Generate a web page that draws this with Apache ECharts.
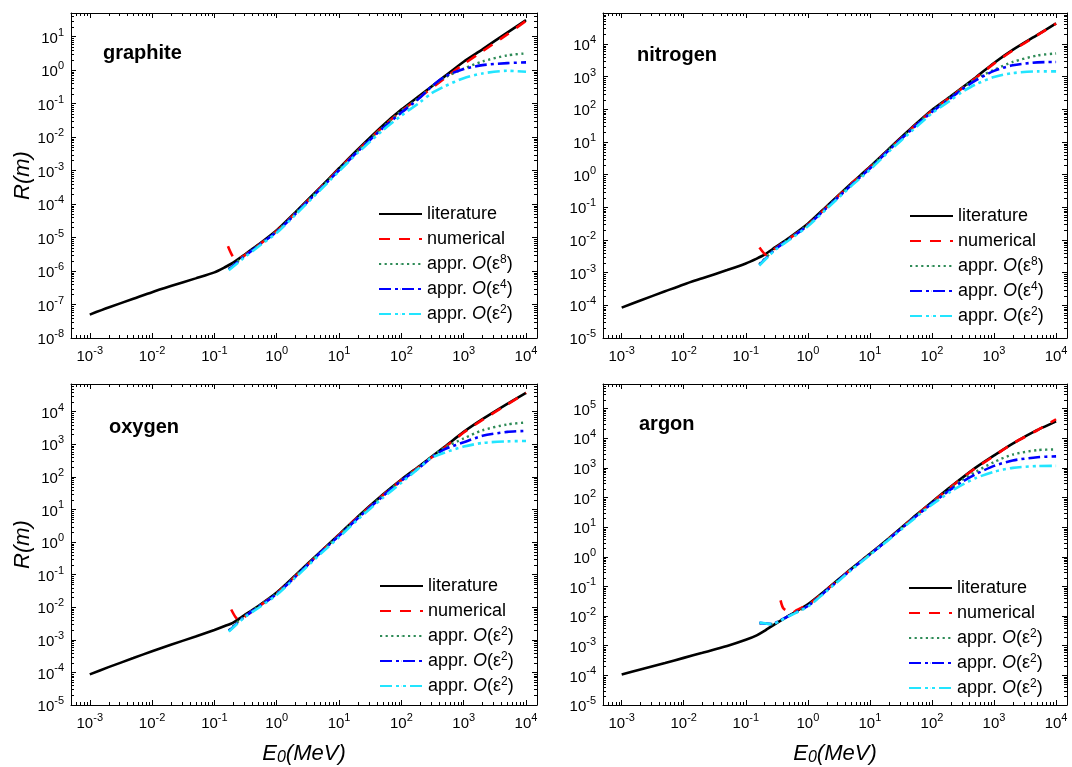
<!DOCTYPE html>
<html><head><meta charset="utf-8">
<script src="https://cdn.jsdelivr.net/npm/echarts@6/dist/echarts.min.js"></script>
<style>html,body{margin:0;padding:0;background:#fff}#c{width:1072px;height:767px}</style>
</head><body><div id="c"></div>
<script>
// ---------------- DATA ----------------
// graphite
const graphiteLitE = [0.001,0.002,0.005,0.01,0.02,0.05,0.1,0.15,0.2,0.3,0.5,1,2,5,10,20,50,100,200,500,1000,2000,5000,10000];
const graphiteLitR = [5.0e-8,8.13e-8,1.48e-7,2.34e-7,3.55e-7,6.03e-7,9.12e-7,1.32e-6,1.78e-6,3.02e-6,6.03e-6,1.66e-5,5.75e-5,3.16e-4,1.17e-3,4.27e-3,0.0219,0.066,0.178,0.66,1.78,4.17,13.2,30.9];
const graphiteNumE = [0.165,0.197,0.229,0.302,1,2,5,10,20,50,100,200,500,1000,2000,5000,10000];
const graphiteNumR = [5.5e-6,2.75e-6,2.29e-6,2.88e-6,1.58e-5,5.37e-5,3.02e-4,1.12e-3,3.98e-3,0.020,0.060,0.158,0.575,1.51,3.63,11.7,29.5];
const graphiteApprE = [0.17,0.3,0.5,1,2,5,10,20,50,100,200,300,500,1000,2000,5000,10000];
const graphiteA8R = [1.17e-6,2.82e-6,5.75e-6,1.55e-5,5.37e-5,2.95e-4,1.07e-3,3.89e-3,0.0195,0.0603,0.158,0.316,0.603,1.10,1.82,2.75,3.16];
const graphiteA4R = [1.12e-6,2.69e-6,5.62e-6,1.48e-5,5.13e-5,2.82e-4,1.02e-3,3.72e-3,0.0182,0.0537,0.151,0.316,0.646,1.07,1.41,1.62,1.70];
const graphiteA2R = [1.05e-6,2.51e-6,5.25e-6,1.38e-5,4.79e-5,2.63e-4,9.55e-4,3.39e-3,0.0158,0.0437,0.110,0.200,0.331,0.575,0.794,0.955,0.891];
// nitrogen
const nitrogenLitE = graphiteLitE;
const nitrogenLitR = [8.5e-5,1.41e-4,2.69e-4,4.37e-4,6.76e-4,1.20e-3,1.91e-3,2.69e-3,3.55e-3,6.03e-3,0.0117,0.0316,0.107,0.537,1.74,6.03,30.2,95.5,251,933,2630,6610,19100,42700];
const nitrogenNumE = [0.166,0.219,0.3,0.5,1,2,5,10,20,50,100,200,500,1000,2000,5000,10000];
const nitrogenNumR = [5.89e-3,3.39e-3,5.62e-3,0.0110,0.0295,0.100,0.525,1.66,5.75,28.8,91.2,240,891,2510,6310,18600,42200];
const nitrogenApprE = [0.165,0.3,0.5,1,2,5,10,20,50,100,200,300,500,1000,2000,5000,10000];
const nitrogenA8R = [1.82e-3,5.50e-3,0.0110,0.0295,0.100,0.500,1.62,5.75,28.2,89.1,234,427,851,1620,2820,4470,5130];
const nitrogenA4R = [1.74e-3,5.25e-3,0.0105,0.0282,0.0955,0.479,1.55,5.50,26.9,83.2,219,398,759,1510,2240,2750,2820];
const nitrogenA2R = [1.66e-3,5.01e-3,0.0100,0.0263,0.0891,0.447,1.41,5.01,24.0,75.9,191,331,575,977,1290,1450,1450];
// oxygen
const oxygenLitE = graphiteLitE;
const oxygenLitR = [8.71e-5,1.45e-4,2.75e-4,4.47e-4,7.08e-4,1.26e-3,2.0e-3,2.69e-3,3.39e-3,5.62e-3,0.0107,0.0282,0.0955,0.501,1.70,6.03,28.2,83.2,224,851,2400,5890,17400,38000];
const oxygenNumE = [0.186,0.219,0.25,0.3,0.5,1,2,5,10,20,50,100,200,500,1000,2000,5000,10000];
const oxygenNumR = [8.51e-3,4.90e-3,3.98e-3,5.01e-3,0.0100,0.0269,0.0891,0.479,1.66,5.75,26.9,79.4,214,813,2290,5620,16600,38000];
const oxygenApprE = [0.17,0.3,0.5,1,2,5,10,20,50,100,200,300,500,1000,2000,5000,10000];
const oxygenA8R = [1.95e-3,5.25e-3,0.0105,0.0269,0.0912,0.490,1.62,5.62,26.3,79.4,214,417,794,1510,2690,4070,4680];
const oxygenA4R = [1.86e-3,5.01e-3,0.0100,0.0257,0.0871,0.468,1.55,5.37,25.1,75.9,200,380,708,1150,1820,2400,2570];
const oxygenA2R = [1.78e-3,4.79e-3,9.33e-3,0.0240,0.0813,0.427,1.41,4.90,22.4,66.1,200,380,562,851,1100,1230,1260];
// argon
const argonLitE = graphiteLitE;
const argonLitR = [1.07e-4,1.58e-4,2.63e-4,3.89e-4,5.75e-4,9.77e-4,1.58e-3,2.24e-3,3.16e-3,5.50e-3,0.0105,0.0251,0.0794,0.398,1.26,4.17,21.4,70.8,229,1000,2630,6610,19100,37200];
const argonNumE = [0.363,0.407,0.562,0.66,1.1,2,5,10,20,50,100,200,500,1000,2000,5000,10000];
const argonNumR = [0.0339,0.0178,0.0132,0.0158,0.0275,0.0759,0.380,1.20,3.98,20.4,69.2,224,977,2510,6610,18600,43700];
const argonApprE = [0.166,0.263,0.35,0.5,1,2,5,10,20,50,100,200,300,500,1000,2000,5000,10000];
const argonA8R = [5.75e-3,5.37e-3,6.92e-3,0.0105,0.0224,0.0741,0.380,1.23,3.98,20.4,66.1,204,380,724,1580,2820,3980,4170];
const argonA4R = [5.89e-3,5.37e-3,6.92e-3,0.0102,0.0219,0.0724,0.372,1.20,3.89,19.5,63.1,186,331,603,1170,1780,2290,2450];
const argonA2R = [6.03e-3,5.37e-3,6.76e-3,0.0100,0.0209,0.0692,0.355,1.15,3.72,18.2,57.5,158,263,447,741,1000,1150,1170];

const panelTitles = ['graphite','nitrogen','oxygen','argon'];
const legendTop = ['literature','numerical','appr. O(ε8)','appr. O(ε4)','appr. O(ε2)'];
const legendBottom = ['literature','numerical','appr. O(ε2)','appr. O(ε2)','appr. O(ε2)'];
const xRange = [5.0e-4, 1.5e4];
const yRanges = [[1e-8, 50.7],[1e-5, 89100],[1e-5, 70800],[1e-5, 676000]];
const minorMultipliers = [2,3,4,5,6,7,8,9];

// ---------------- BUILD ----------------
const FONT = '"Liberation Sans", Arial, Helvetica, sans-serif';
const zip = (a, b) => a.map((v, i) => [v, b[i]]);
const panels = [
  {lit:[graphiteLitE,graphiteLitR], num:[graphiteNumE,graphiteNumR], E:graphiteApprE, a8:graphiteA8R, a4:graphiteA4R, a2:graphiteA2R, leg:legendTop},
  {lit:[nitrogenLitE,nitrogenLitR], num:[nitrogenNumE,nitrogenNumR], E:nitrogenApprE, a8:nitrogenA8R, a4:nitrogenA4R, a2:nitrogenA2R, leg:legendTop},
  {lit:[oxygenLitE,oxygenLitR], num:[oxygenNumE,oxygenNumR], E:oxygenApprE, a8:oxygenA8R, a4:oxygenA4R, a2:oxygenA2R, leg:legendBottom},
  {lit:[argonLitE,argonLitR], num:[argonNumE,argonNumR], E:argonApprE, a8:argonA8R, a4:argonA4R, a2:argonA2R, leg:legendBottom}
];
const grids = [
  {left:71, top:13, width:466, height:325},
  {left:603, top:13, width:464, height:325},
  {left:71, top:384, width:466, height:325},
  {left:603, top:384, width:464, height:325}
];
const legendPos = [{left:378, top:204},{left:909, top:206},{left:379, top:576},{left:908, top:578}];
const titlePos = [{left:103, top:43},{left:637, top:45},{left:109, top:417},{left:639, top:414}];

const styles = [
  {color:'#000000', type:'solid', width:2.6},
  {color:'#FF0000', type:[11,9], width:2.6},
  {color:'#2E8B57', type:[2.2,3.4], width:2.4},
  {color:'#0000FF', type:[12,4,3,4], width:2.6},
  {color:'#22E5FF', type:[12,4,3,4,3,4], width:2.6}
];

function expLabel(v){
  const l = Math.log10(v);
  const e = Math.round(l);
  if (Math.abs(l - e) > 1e-6) return '';
  return '{b|10}{s|' + e + '}';
}
function expLabelLin(v){
  if (Math.abs(v - Math.round(v)) > 1e-6) return '';
  return '{b|10}{s|' + Math.round(v) + '}';
}
const labelRich = {
  b:{fontFamily:FONT, fontSize:15, color:'#000', lineHeight:19, verticalAlign:'bottom'},
  s:{fontFamily:FONT, fontSize:11, color:'#000', lineHeight:12, verticalAlign:'top'}
};
const axisLineStyle = {show:true, onZero:false, lineStyle:{color:'#000', width:1}};
const tickStyle = {show:true, inside:true, length:5, lineStyle:{color:'#000', width:1}};

const option = {animation:false, backgroundColor:'#fff', grid:grids, xAxis:[], yAxis:[], series:[], legend:[], title:[]};
const labelMap = {};

function minorTickSeries(xi, yi, yr){
  const xMid = Math.sqrt(xRange[0] * xRange[1]);
  const yMid = Math.sqrt(yr[0] * yr[1]);
  const data = [];
  for (let k = -4; k <= 4; k++) minorMultipliers.forEach(m => {
    const v = m * Math.pow(10, k);
    if (v > xRange[0] && v < xRange[1]) data.push([v, yMid, 0]);
  });
  for (let k = -9; k <= 6; k++) minorMultipliers.forEach(m => {
    const v = m * Math.pow(10, k);
    if (v > yr[0] && v < yr[1]) data.push([xMid, v, 1]);
  });
  return {type:'custom', xAxisIndex:xi, yAxisIndex:yi, data:data, silent:true, clip:false, z:1,
    encode:{x:0, y:1},
    renderItem:(params, api) => {
      const cs = params.coordSys;
      const pt = api.coord([api.value(0), api.value(1)]);
      const L = 3, st = {stroke:'#000', lineWidth:1};
      if (api.value(2) === 0) {
        const x = Math.round(pt[0]) + 0.5;
        return {type:'group', children:[
          {type:'line', shape:{x1:x, y1:cs.y + cs.height, x2:x, y2:cs.y + cs.height - L}, style:st},
          {type:'line', shape:{x1:x, y1:cs.y, x2:x, y2:cs.y + L}, style:st}]};
      }
      const y = Math.round(pt[1]) + 0.5;
      return {type:'group', children:[
        {type:'line', shape:{x1:cs.x, y1:y, x2:cs.x + L, y2:y}, style:st},
        {type:'line', shape:{x1:cs.x + cs.width, y1:y, x2:cs.x + cs.width - L, y2:y}, style:st}]};
    }};
}

panels.forEach((p, gi) => {
  const yr = yRanges[gi];
  const xi = option.xAxis.length;
  option.xAxis.push({type:'log', logBase:10, gridIndex:gi, position:'bottom', min:xRange[0], max:xRange[1], splitNumber:8,
    splitLine:{show:false}, axisLine:axisLineStyle, axisTick:tickStyle, minorTick:{show:false},
    axisLabel:{show:true, margin:7, formatter:expLabel, rich:labelRich},
    name: gi >= 2 ? '{e|E}{sub|0}{e|(MeV)}' : '', nameLocation:'middle', nameGap:37,
    nameTextStyle:{rich:{e:{fontFamily:FONT, fontSize:22, fontStyle:'italic', color:'#000', lineHeight:24},
      sub:{fontFamily:FONT, fontSize:16, fontStyle:'italic', color:'#000', lineHeight:16, verticalAlign:'bottom'}}}
  });
  option.xAxis.push({type:'log', logBase:10, gridIndex:gi, position:'top', min:xRange[0], max:xRange[1], splitNumber:8,
    splitLine:{show:false}, axisLine:axisLineStyle, axisTick:tickStyle, axisLabel:{show:false}});

  let yi;
  const yName = gi % 2 === 0 ? 'R(m)' : '';
  const yNameStyle = {fontFamily:FONT, fontSize:22, fontStyle:'italic', color:'#000'};
  if (gi !== 3) {
    yi = option.yAxis.length;
    option.yAxis.push({type:'log', logBase:10, gridIndex:gi, position:'left', min:yr[0], max:yr[1], splitNumber:10,
      splitLine:{show:false}, axisLine:axisLineStyle, axisTick:tickStyle,
      axisLabel:{show:true, margin:7, formatter:expLabel, rich:labelRich},
      name:yName, nameLocation:'middle', nameGap:32, nameTextStyle:yNameStyle});
    option.yAxis.push({type:'log', logBase:10, gridIndex:gi, position:'right', min:yr[0], max:yr[1], splitNumber:10,
      splitLine:{show:false}, axisLine:axisLineStyle, axisTick:tickStyle, axisLabel:{show:false}});
  } else {
    // decade ticks/labels drawn on an exponent axis aligned with the (hidden) log data axis
    const lo = Math.log10(yr[0]), hi = Math.log10(yr[1]);
    option.yAxis.push({type:'value', gridIndex:gi, position:'left', min:lo, max:hi, interval:1,
      splitLine:{show:false}, axisLine:axisLineStyle, axisTick:tickStyle,
      axisLabel:{show:true, margin:7, formatter:expLabelLin, rich:labelRich, showMaxLabel:false},
      name:yName, nameLocation:'middle', nameGap:32, nameTextStyle:yNameStyle});
    option.yAxis.push({type:'value', gridIndex:gi, position:'right', min:lo, max:hi, interval:1,
      splitLine:{show:false}, axisLine:axisLineStyle, axisTick:tickStyle, axisLabel:{show:false}});
    yi = option.yAxis.length;
    option.yAxis.push({type:'log', logBase:10, gridIndex:gi, show:false, min:yr[0], max:yr[1]});
  }

  const datasets = [zip(p.lit[0], p.lit[1]), zip(p.num[0], p.num[1]), zip(p.E, p.a8), zip(p.E, p.a4), zip(p.E, p.a2)];
  const names = [];
  datasets.forEach((d, si) => {
    const nm = 'p' + gi + '_s' + si;
    names.push(nm);
    labelMap[nm] = p.leg[si];
    option.series.push({type:'line', name:nm, xAxisIndex:xi, yAxisIndex:yi, data:d, symbol:'none', showSymbol:false,
      smooth:0.25, clip:true, z: si === 0 ? 2 : 3 + si,
      lineStyle:{color:styles[si].color, type:styles[si].type, width:styles[si].width, cap:'butt'},
      itemStyle:{color:styles[si].color}});
  });
  option.series.push(minorTickSeries(xi, yi, yr));
  option.legend.push(Object.assign({}, legendPos[gi], {orient:'vertical', data:names, padding:0, itemWidth:43, itemHeight:1, itemGap:5,
    selectedMode:false,
    formatter: (nm) => {
      const t = labelMap[nm];
      const m = t.match(/^appr\. O\(ε(\d)\)$/);
      if (m) return '{t|appr. }{i|O}{t|(ε}{s|' + m[1] + '}{t|)}';
      return '{t|' + t + '}';
    },
    textStyle:{fontFamily:FONT, fontSize:18, color:'#000', lineHeight:20,
      rich:{t:{fontFamily:FONT, fontSize:18, color:'#000', lineHeight:20},
            i:{fontFamily:FONT, fontSize:18, fontStyle:'italic', color:'#000', lineHeight:20},
            s:{fontFamily:FONT, fontSize:12, color:'#000', lineHeight:12, verticalAlign:'top'}}}
  }));
  option.title.push(Object.assign({}, titlePos[gi], {text:panelTitles[gi], padding:0,
    textStyle:{fontFamily:FONT, fontSize:20, fontWeight:'bold', color:'#000'}}));
});

const chart = echarts.init(document.getElementById('c'), null, {renderer:'canvas'});
chart.setOption(option);
</script>
</body></html>
